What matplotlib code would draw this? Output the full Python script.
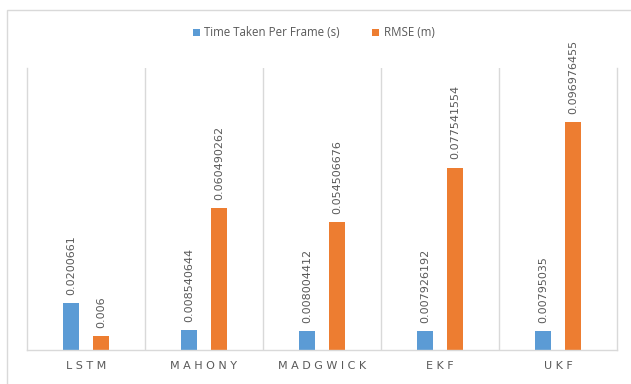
import matplotlib
matplotlib.use("Agg")
import matplotlib.pyplot as plt
from matplotlib.patches import Rectangle
import numpy as np

categories = ["LSTM", "MAHONY", "MADGWICK", "EKF", "UKF"]
time_per_frame = [0.0200661, 0.008540644, 0.008004412, 0.007926192, 0.00795035]
rmse = [0.006, 0.060490262, 0.054506676, 0.077541554, 0.096976455]
series_names = ["Time Taken Per Frame (s)", "RMSE (m)"]

BLUE = "#5B9BD5"
ORANGE = "#ED7D31"
GRID = "#D9D9D9"
TEXT = "#595959"

W, H = 631, 384
fig = plt.figure(figsize=(W / 100, H / 100), dpi=100)
fig.patch.set_facecolor("white")

# chart-area frame (top and left edges visible)
fig.add_artist(Rectangle((6.5 / W, -0.05), 1.2, (H - 9.5) / H + 0.05,
                         transform=fig.transFigure, fill=False,
                         edgecolor=GRID, linewidth=1.0))

ax = fig.add_axes([27 / W, (H - 350) / H, (617 - 27) / W, (350 - 68) / H])
x = np.arange(len(categories))
bw = 0.136
off = 0.127
b1 = ax.bar(x - off, time_per_frame, bw, color=BLUE, label=series_names[0])
b2 = ax.bar(x + off, rmse, bw, color=ORANGE, label=series_names[1])

ax.set_xlim(-0.5, len(categories) - 0.5)
ax.set_ylim(0, 0.12)
ax.set_yticks([])

# category separators
for sep in np.arange(0.5, len(categories) - 0.5, 1.0):
    ax.axvline(sep, color=GRID, linewidth=1.0, zorder=0)
for side in ("left", "right", "bottom"):
    ax.spines[side].set_color(GRID)
    ax.spines[side].set_linewidth(1.0)
ax.spines["top"].set_visible(False)

ax.set_xticks(x)
ax.set_xticklabels([" ".join(c) for c in categories], fontsize=8, color=TEXT,
                   fontfamily="DejaVu Sans")
ax.tick_params(axis="x", length=0, pad=8)

for bars, vals in ((b1, time_per_frame), (b2, rmse)):
    for rect, v in zip(bars, vals):
        ax.annotate(str(v), (rect.get_x() + rect.get_width() / 2, v),
                    xytext=(0, 6), textcoords="offset points",
                    rotation=90, ha="center", va="bottom",
                    fontsize=8, color=TEXT, fontfamily="DejaVu Sans")

fig.legend(handles=[b1, b2], labels=series_names, loc="center",
           bbox_to_anchor=(0.497, 1 - 33 / H), ncol=2, frameon=False,
           labelcolor=TEXT, handlelength=0.6, handleheight=0.6,
           handletextpad=0.4, columnspacing=2.8,
           prop={"family": "Open Sans", "size": 8.3})

fig.savefig("out.png", dpi=100, facecolor="white")
